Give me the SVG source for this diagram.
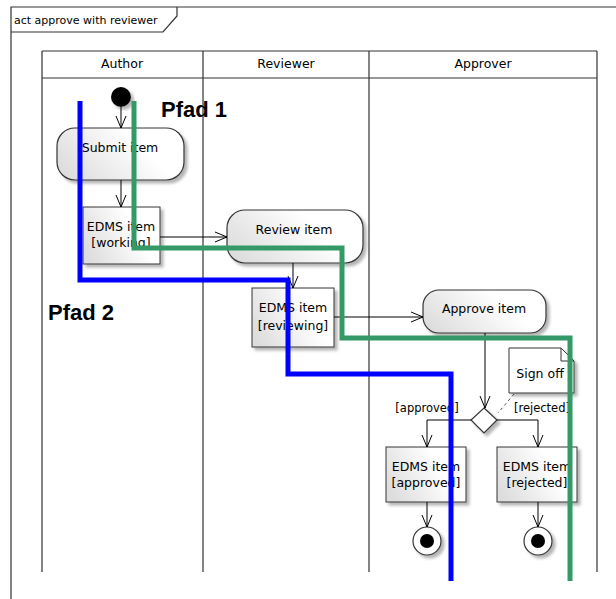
<svg xmlns="http://www.w3.org/2000/svg" width="616" height="599" viewBox="0 0 616 599">
<defs>
<linearGradient id="g" x1="0" y1="0.7" x2="1" y2="0.3">
<stop offset="0" stop-color="#dddddd"/>
<stop offset="0.7" stop-color="#ffffff"/>
<stop offset="1" stop-color="#ffffff"/>
</linearGradient>
<filter id="sh" x="-20%" y="-20%" width="140%" height="140%">
<feDropShadow dx="3" dy="3" stdDeviation="1.5" flood-color="#777" flood-opacity="0.55"/>
</filter>
<marker id="arr" viewBox="0 0 12 12" markerWidth="12" markerHeight="12" refX="12" refY="6" orient="auto" markerUnits="userSpaceOnUse">
<path d="M0,1 L12,6 L0,11" fill="none" stroke="#000" stroke-width="1"/>
</marker>
<style>
.t{font-family:"DejaVu Sans",sans-serif;font-size:12.5px;fill:#000;text-anchor:middle}
.tt{font-family:"DejaVu Sans",sans-serif;font-size:11px;fill:#000}
.gd{font-family:"DejaVu Sans",sans-serif;font-size:11.5px;fill:#000;text-anchor:middle}
.pf{font-family:"Liberation Sans",Arial,sans-serif;font-size:22px;font-weight:bold;fill:#000}
.act{fill:url(#g);stroke:#333;stroke-width:1.2;filter:url(#sh)}
.obj{fill:url(#g);stroke:#333;stroke-width:1;filter:url(#sh)}
.ln{stroke:#333;stroke-width:1.2;fill:none}
.c{stroke:#000;stroke-width:1;fill:none}
.blue{stroke:#0000ff;stroke-width:5;fill:none}
.green{stroke:#339966;stroke-width:5;fill:none}
</style>
</defs>
<rect width="616" height="599" fill="#fff"/>
<g id="frame">
<path class="ln" d="M11,599 V7 H616"/>
<path class="ln" d="M11,32 H163 L177,16 V7"/>
<text class="tt" x="14" y="24">act approve with reviewer</text>
</g>
<g id="swimlanes">
<path class="ln" d="M42,51 H597 M42,78 H597 M42,51 V572 M203,51 V572 M369,51 V572 M597,51 V572"/>
<text class="t" x="122" y="68">Author</text>
<text class="t" x="286" y="68">Reviewer</text>
<text class="t" x="483" y="68">Approver</text>
</g>
<g id="start"><circle cx="121" cy="97" r="10" fill="#000" filter="url(#sh)"/></g>
<g id="submit"><rect class="act" x="57" y="128" width="127" height="52" rx="18"/><text class="t" x="120" y="152">Submit item</text></g>
<g id="edms-working"><rect class="obj" x="83" y="207" width="77" height="57"/><text class="t" x="121" y="231">EDMS item</text><text class="t" x="121" y="247">[working]</text></g>
<g id="review"><rect class="act" x="227" y="210" width="136" height="53" rx="18"/><text class="t" x="294" y="234">Review item</text></g>
<g id="edms-reviewing"><rect class="obj" x="252" y="288" width="82" height="59"/><text class="t" x="293" y="312">EDMS item</text><text class="t" x="293" y="330">[reviewing]</text></g>
<g id="approve"><rect class="act" x="423" y="290" width="123" height="43" rx="16"/><text class="t" x="484" y="313">Approve item</text></g>
<g id="decision"><path d="M484,408 L497,420 L484,433 L471,420 Z" fill="#fff" stroke="#333" stroke-width="1.2" filter="url(#sh)"/></g>
<g id="note"><path d="M509,348 H561 L574,361 V393 H509 Z" fill="#fff" stroke="#333" stroke-width="1" filter="url(#sh)"/><path d="M561,348 V361 H574" fill="none" stroke="#333" stroke-width="1"/><text class="t" x="540" y="378">Sign off</text></g>
<g id="edms-approved"><rect class="obj" x="386" y="447" width="80" height="55"/><text class="t" x="426" y="471">EDMS item</text><text class="t" x="426" y="487">[approved]</text></g>
<g id="edms-rejected"><rect class="obj" x="497" y="447" width="80" height="55"/><text class="t" x="537" y="471">EDMS item</text><text class="t" x="537" y="487">[rejected]</text></g>
<g id="end-approved"><circle cx="427" cy="541" r="14" fill="#fff" stroke="#333" stroke-width="1.2" filter="url(#sh)"/><circle cx="427" cy="541" r="7" fill="#000"/></g>
<g id="end-rejected"><circle cx="538" cy="541" r="14" fill="#fff" stroke="#333" stroke-width="1.2" filter="url(#sh)"/><circle cx="538" cy="541" r="7" fill="#000"/></g>
<g id="connectors">
<path class="c" d="M121,107 V128" marker-end="url(#arr)"/>
<path class="c" d="M121,180 V207" marker-end="url(#arr)"/>
<path class="c" d="M160,237 H227" marker-end="url(#arr)"/>
<path class="c" d="M293,263 V288" marker-end="url(#arr)"/>
<path class="c" d="M334,317 H423" marker-end="url(#arr)"/>
<path class="c" d="M485,333 V408" marker-end="url(#arr)"/>
<path class="c" d="M471,420 H427 V447" marker-end="url(#arr)"/>
<path class="c" d="M497,420 H538 V447" marker-end="url(#arr)"/>
<path class="c" d="M427,502 V527" marker-end="url(#arr)"/>
<path class="c" d="M538,502 V527" marker-end="url(#arr)"/>
<path d="M514,394 L498,413" stroke="#555" stroke-width="1" stroke-dasharray="3,3" fill="none"/>
<text class="gd" x="427" y="412">[approved]</text>
<text class="gd" x="542" y="412">[rejected]</text>
</g>
<g id="paths">
<path class="blue" d="M80,101 V280 H288 V374 H451 V581"/>
<path class="green" d="M134,101 V248 H342 V338 H570 V581"/>
<text class="pf" x="161" y="117">Pfad 1</text>
<text class="pf" x="48" y="320">Pfad 2</text>
</g>
</svg>
